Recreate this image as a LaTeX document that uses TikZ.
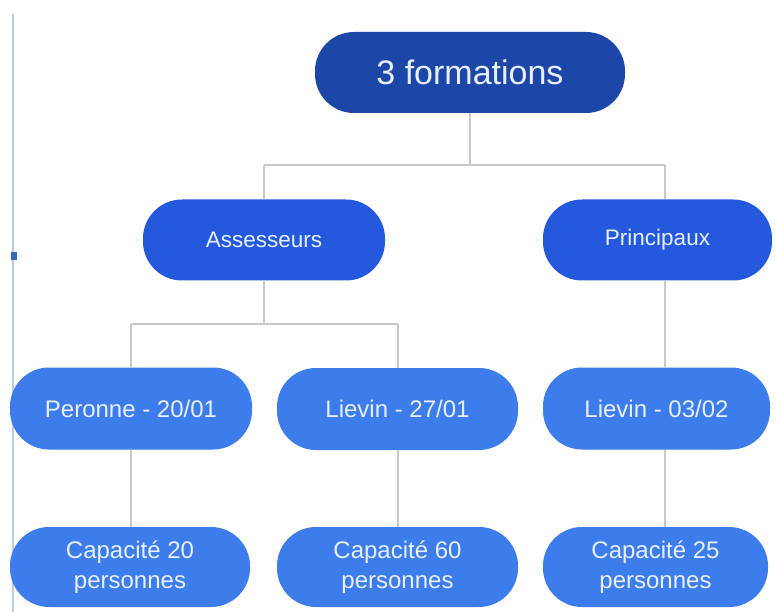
\documentclass[tikz,border=0pt]{standalone}
\usepackage{fontspec}
\setmainfont{Liberation Sans}
\definecolor{topblue}{HTML}{1C47A8}
\definecolor{midblue}{HTML}{2459DD}
\definecolor{lowblue}{HTML}{3D7CEB}
\definecolor{txt}{HTML}{E8F0FF}
\definecolor{conncol}{HTML}{C8C8C8}
\definecolor{edgegray}{HTML}{C3CAD3}
\definecolor{markblue}{HTML}{3A66B8}
\begin{document}
\begin{tikzpicture}[x=1pt,y=-1pt,
  pill/.style={rounded corners=39pt, inner sep=0pt, text=txt, align=center},
  lvltop/.style={pill, fill=topblue, minimum width=310pt, minimum height=81pt, font=\fontsize{34}{38}\selectfont},
  lvltwo/.style={pill, fill=midblue, minimum height=81pt, font=\fontsize{22.5}{28}\selectfont},
  lvlthree/.style={pill, fill=lowblue, minimum height=82pt, font=\fontsize{24}{30}\selectfont},
  lvlfour/.style={pill, fill=lowblue, minimum height=80pt, font=\fontsize{24}{30}\selectfont},
  conn/.style={draw=conncol, line width=1.6pt}]
\fill[white] (0,0) rectangle (776,612);
\useasboundingbox (0,0) rectangle (776,612);
\draw[edgegray, line width=2.5pt] (13,14) -- (13,612);
\fill[markblue] (11,252) rectangle (17,260);

\coordinate (j1) at (470,165);
\coordinate (ja) at (264,165);
\coordinate (jp) at (665,165);
\coordinate (j2) at (264,324);
\coordinate (jl1) at (131,324);
\coordinate (jl2) at (398,324);

\node[lvltop] (T) at (470,72.5) {3 formations};
\node[lvltwo, minimum width=242pt] (A) at (264,240) {Assesseurs};
\node[lvltwo, minimum width=229pt] (P) at (657.5,240) {Principaux\strut};
\node[lvlthree, minimum width=242pt] (L1) at (131,408.5) {Peronne - 20/01};
\node[lvlthree, minimum width=241pt] (L2) at (397.5,409) {Lievin - 27/01};
\node[lvlthree, minimum width=227pt] (L3) at (656.5,408.5) {Lievin - 03/02};
\node[lvlfour, minimum width=240pt] (C1) at (130,567) {Capacité 20\\personnes};
\node[lvlfour, minimum width=241pt] (C2) at (397.5,567) {Capacité 60\\personnes};
\node[lvlfour, minimum width=225pt] (C3) at (655.5,567) {Capacité 25\\personnes};

\draw[conn] (T.south) -- (j1);
\draw[conn] (ja) -- (jp);
\draw[conn] (ja) -- (A.north);
\draw[conn] (jp) -- (jp |- P.north);
\draw[conn] (A.south) -- (j2);
\draw[conn] (jl1) -- (jl2);
\draw[conn] (jl1) -- (L1.north);
\draw[conn] (jl2) -- (jl2 |- L2.north);
\draw[conn] (jp |- P.south) -- (jp |- L3.north);
\draw[conn] (L1.south -| jl1) -- (jl1 |- C1.north);
\draw[conn] (jl2 |- L2.south) -- (jl2 |- C2.north);
\draw[conn] (jp |- L3.south) -- (jp |- C3.north);
\end{tikzpicture}
\end{document}
